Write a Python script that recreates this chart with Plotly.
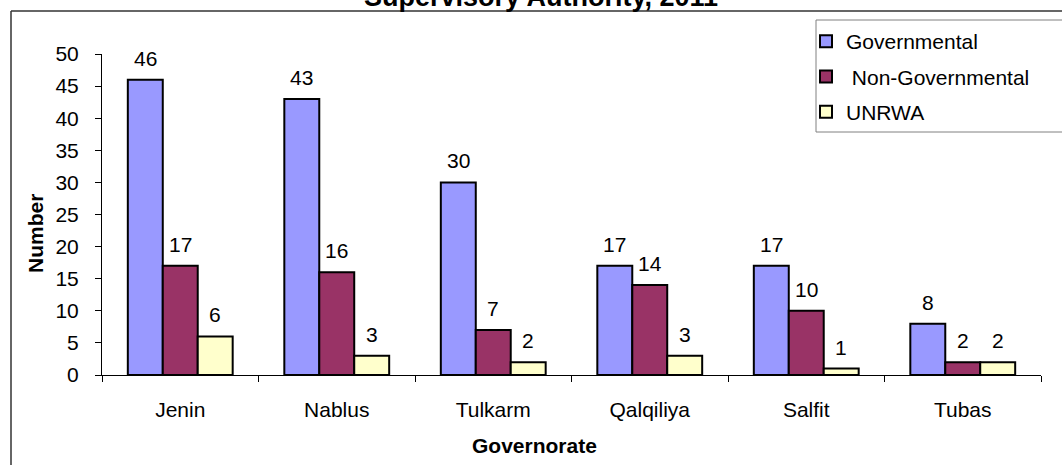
import plotly.graph_objects as go

categories = ["Jenin", "Nablus", "Tulkarm", "Qalqiliya", "Salfit", "Tubas"]
governmental = [46, 43, 30, 17, 17, 8]
non_governmental = [17, 16, 7, 14, 10, 2]
unrwa = [6, 3, 2, 3, 1, 2]
series_names = ["Governmental", " Non-Governmental", "UNRWA"]
series_colors = ["#9999FF", "#993366", "#FFFFCC"]
y_ticks = [0, 5, 10, 15, 20, 25, 30, 35, 40, 45, 50]

W, H = 1062, 465
L, R, T, B = 102, 21, 54, 90
PW = W - L - R
PH = H - T - B
BARGAP = 0.33
FONT = "Arial, Liberation Sans, sans-serif"
FS = 21


def px(xp):
    return (xp - L) / PW


def py(yp):
    return (H - B - yp) / PH


fig = go.Figure()
series = [governmental, non_governmental, unrwa]
for name, vals, col in zip(series_names, series, series_colors):
    fig.add_trace(go.Bar(
        x=categories, y=vals, name=name,
        marker=dict(color=col, line=dict(color="black", width=2)),
        legendgroup=name,
    ))

bar_px = PW / len(categories) * (1 - BARGAP) / 3
annotations = []
for i, vals in enumerate(series):
    for c, v in zip(categories, vals):
        annotations.append(dict(
            x=c, y=v, xref="x", yref="y", text=str(v), showarrow=False,
            xshift=(i - 1) * bar_px, yanchor="bottom", yshift=8,
            font=dict(size=FS, color="black", family=FONT),
        ))

# title (partially cut off at the top), axis titles
annotations.append(dict(
    text="<b>Supervisory Authority, 2011</b>", xref="paper", yref="paper",
    x=px(541), y=py(-3), xanchor="center", yanchor="middle",
    showarrow=False, font=dict(size=27, color="black", family=FONT),
))
annotations.append(dict(
    text="<b>Governorate</b>", xref="paper", yref="paper",
    x=px(534), y=py(445), xanchor="center", yanchor="middle",
    showarrow=False, font=dict(size=21, color="black", family=FONT),
))
annotations.append(dict(
    text="<b>Number</b>", xref="paper", yref="paper", textangle=-90,
    x=px(35), y=py(234), xanchor="center", yanchor="middle",
    showarrow=False, font=dict(size=21, color="black", family=FONT),
))

shapes = [
    # outer chart frame (top and left edges visible)
    dict(type="line", xref="paper", yref="paper",
         x0=px(11), x1=px(W + 20), y0=py(11), y1=py(11),
         line=dict(color="#333333", width=1.5)),
    dict(type="line", xref="paper", yref="paper",
         x0=px(11), x1=px(11), y0=py(11), y1=py(H + 20),
         line=dict(color="#333333", width=1.5)),
    # legend box
    dict(type="rect", xref="paper", yref="paper",
         x0=px(816), x1=px(W + 20), y0=py(20), y1=py(132),
         fillcolor="white", line=dict(color="#808080", width=1), layer="above"),
]

fig.update_layout(
    width=W, height=H,
    margin=dict(l=L, r=R, t=T, b=B, pad=0),
    paper_bgcolor="white", plot_bgcolor="white",
    barmode="group", bargap=BARGAP, bargroupgap=0,
    font=dict(family=FONT, size=FS, color="black"),
    showlegend=True,
    legend=dict(
        x=px(806), y=py(21), xanchor="left", yanchor="top",
        bgcolor="rgba(0,0,0,0)", borderwidth=0,
        font=dict(size=FS, family=FONT, color="black"),
        itemwidth=30, tracegroupgap=5, traceorder="grouped",
    ),
    annotations=annotations,
    shapes=shapes,
)
fig.update_xaxes(
    showline=True, linecolor="black", linewidth=1,
    ticks="outside", tickson="boundaries", ticklen=6, tickcolor="black",
    tickfont=dict(size=FS, family=FONT), ticklabelstandoff=16,
    showgrid=False, zeroline=False,
)
fig.update_yaxes(
    range=[0, 50], tickvals=y_ticks, showline=True, linecolor="black", linewidth=1,
    ticks="outside", ticklen=6, tickcolor="black",
    tickfont=dict(size=FS, family=FONT), ticklabelstandoff=12,
    showgrid=False, zeroline=False,
)

fig.write_html("out.html", config={"displayModeBar": False},
               post_script="document.body.style.margin='0';")
